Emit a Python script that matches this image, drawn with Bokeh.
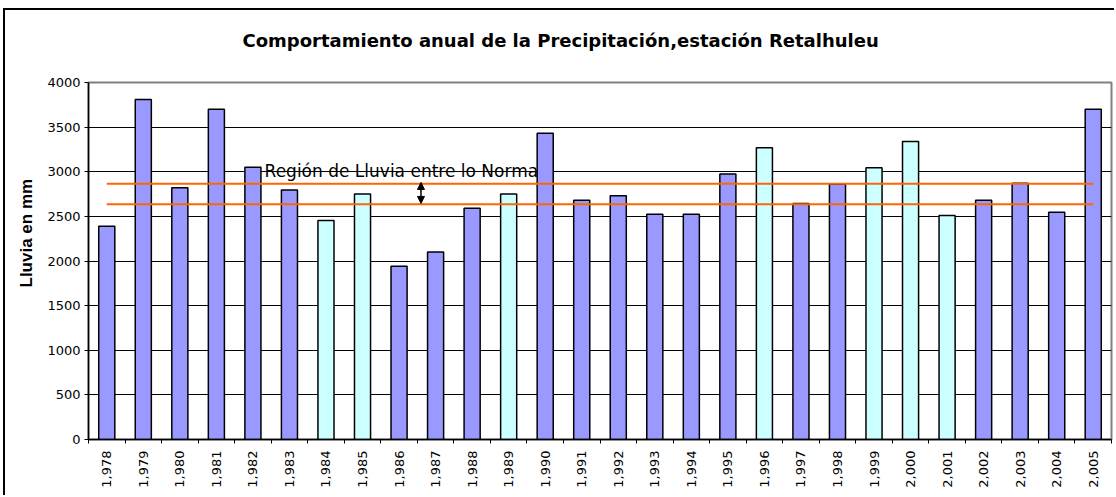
import math
from bokeh.plotting import figure
from bokeh.models import (FixedTicker, Arrow, NormalHead, Label, Title,
                          ColumnDataSource, Range1d)
from bokeh.transform import factor_cmap
from bokeh.embed import file_html
from bokeh.resources import INLINE

# ---------------- data ----------------
years = ["1,978", "1,979", "1,980", "1,981", "1,982", "1,983", "1,984",
         "1,985", "1,986", "1,987", "1,988", "1,989", "1,990", "1,991",
         "1,992", "1,993", "1,994", "1,995", "1,996", "1,997", "1,998",
         "1,999", "2,000", "2,001", "2,002", "2,003", "2,004", "2,005"]
rainfall = [2390, 3810, 2820, 3700, 3050, 2795, 2455, 2750, 1940, 2100,
            2590, 2750, 3430, 2680, 2730, 2525, 2525, 2975, 3270, 2645,
            2860, 3045, 3340, 2510, 2680, 2870, 2545, 3700]
highlighted_years = ["1,984", "1,985", "1,989", "1,996", "1,999", "2,000", "2,001"]
normal_upper = 2865
normal_lower = 2635

title_text = "Comportamiento anual de la Precipitación,estación Retalhuleu"
y_label = "Lluvia en mm"
region_text = "Región de Lluvia entre lo Norma"
y_ticks = [0, 500, 1000, 1500, 2000, 2500, 3000, 3500, 4000]

# annotation placement (in category-index / value units)
region_text_x = 4.32
region_text_y = 3005
arrow_x = 8.6

FONT = "Liberation Sans"
WIDE = "DejaVu Sans"

idx = list(range(len(years)))
groups = ["alt" if y in highlighted_years else "base" for y in years]
src = ColumnDataSource(dict(x=idx, top=rainfall, year=years, group=groups))

p = figure(width=1111, height=487, output_backend="svg", toolbar_location=None,
           x_range=Range1d(-0.5, len(years) - 0.5), y_range=Range1d(0, 4000),
           min_border_left=83, min_border_right=5, min_border_top=72,
           min_border_bottom=58, background_fill_color="white",
           border_fill_color="white")
p.styles = {"margin-left": "3px", "margin-top": "8px",
            "border-left": "2px solid black", "border-top": "2px solid black"}

# trailing empty line lifts the title higher above the plot frame
p.title = Title(text=title_text + "\n", align="left", offset=154,
                text_font=WIDE, text_font_size="18px", text_font_style="bold",
                text_color="black", standoff=22)

p.add_layout(Title(text=y_label, align="left", offset=152,
                   text_font=FONT, text_font_size="17px", text_font_style="bold",
                   text_color="black", standoff=18), "left")

p.vbar(x="x", top="top", width=0.44, source=src,
       fill_color=factor_cmap("group", ["#9999FF", "#CCFFFF"], ["base", "alt"]),
       line_color="black", line_width=1.5)

lines_src = ColumnDataSource(dict(x=idx, up=[normal_upper] * len(idx),
                                  lo=[normal_lower] * len(idx)))
p.line("x", "up", source=lines_src, line_color="#FF6600", line_width=2)
p.line("x", "lo", source=lines_src, line_color="#FF6600", line_width=2)

p.add_layout(Arrow(start=NormalHead(size=7, fill_color="black", line_color="black"),
                   end=NormalHead(size=7, fill_color="black", line_color="black"),
                   x_start=arrow_x, y_start=normal_lower + 10,
                   x_end=arrow_x, y_end=normal_upper + 15,
                   line_color="black", line_width=1.5))

p.add_layout(Label(x=region_text_x, y=region_text_y, text=region_text,
                   text_font=WIDE, text_font_size="17px",
                   text_baseline="alphabetic", text_color="black"))

# axes
p.xgrid.visible = False
p.ygrid.grid_line_color = "black"
p.ygrid.grid_line_width = 1
p.outline_line_color = "#808080"
p.outline_line_width = 2

p.yaxis.ticker = FixedTicker(ticks=y_ticks)
p.yaxis.axis_line_color = "black"
p.yaxis.axis_line_width = 1.5
p.yaxis.major_tick_out = 4
p.yaxis.major_tick_in = 0
p.yaxis.minor_tick_out = 0
p.yaxis.minor_tick_in = 0
p.yaxis.major_label_standoff = 4
p.yaxis.major_label_text_font = WIDE
p.yaxis.major_label_text_font_size = "13px"
p.yaxis.major_label_text_color = "black"

boundaries = [i - 0.5 for i in range(len(years) + 1)]
p.xaxis.ticker = FixedTicker(ticks=idx, minor_ticks=boundaries)
p.xaxis.major_label_overrides = {i: y for i, y in zip(idx, years)}
p.xaxis.major_label_orientation = math.pi / 2
p.xaxis.axis_line_color = "black"
p.xaxis.axis_line_width = 1.5
p.xaxis.major_tick_out = 0
p.xaxis.major_tick_in = 0
p.xaxis.minor_tick_out = 4
p.xaxis.minor_tick_in = 0
p.xaxis.minor_tick_line_color = "black"
p.xaxis.major_label_standoff = 7
p.xaxis.major_label_text_font = WIDE
p.xaxis.major_label_text_font_size = "13px"
p.xaxis.major_label_text_color = "black"

open("out.html", "w").write(file_html(p, INLINE))
